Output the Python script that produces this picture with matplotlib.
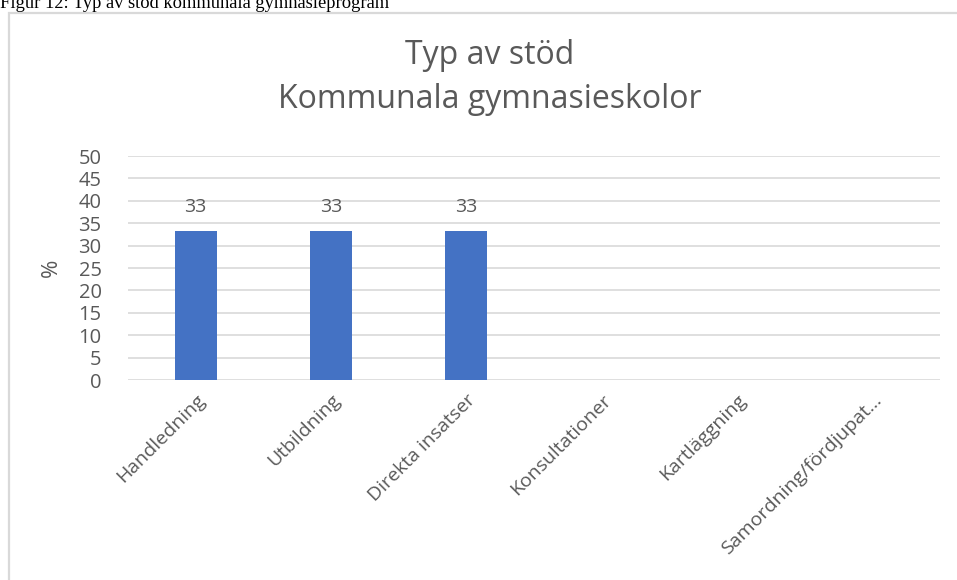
import matplotlib.pyplot as plt
from matplotlib.patches import Rectangle

categories = ["Handledning", "Utbildning", "Direkta insatser",
              "Konsultationer", "Kartläggning", "Samordning/fördjupat..."]
values = [33.3, 33.3, 33.3, 0, 0, 0]
yticks = list(range(0, 55, 5))

W, H = 957, 580
fig = plt.figure(figsize=(W / 100, H / 100), dpi=100)
plt.rcParams["font.family"] = ["Open Sans", "DejaVu Sans"]

# caption above the chart, its upper half is cropped away in the reference
fig.text(0.0, 1 - 8 / H, "Figur 12: Typ av stöd kommunala gymnasieprogram",
         family="Liberation Serif", fontsize=13.3, va="baseline", ha="left",
         color="black")

# chart border (runs off the right and bottom edge)
fig.patches.append(Rectangle((8.5 / W, -0.1), 1.2, 1 - 12.5 / H + 0.1,
                             transform=fig.transFigure, fill=False,
                             edgecolor="#D9D9D9", lw=1.6))

ax = fig.add_axes([128 / W, 200 / H, 812 / W, 224 / H])
x = range(len(categories))
bars = ax.bar(x, values, width=0.31, color="#4472C4")
for b, v in zip(bars, values):
    if v > 0:
        ax.text(b.get_x() + b.get_width() / 2, v + 3.2, f"{v:.0f}",
                ha="center", va="bottom", fontsize=14, color="#595959")

ax.set_xlim(-0.5, len(categories) - 0.5)
ax.set_ylim(0, 50)
ax.set_yticks(yticks)
ax.yaxis.grid(True, color="#D9D9D9", lw=1.2)
ax.set_axisbelow(True)
for s in ax.spines.values():
    s.set_visible(False)
ax.tick_params(axis="both", length=0, colors="#595959", labelsize=14.5)
ax.tick_params(axis="y", pad=19)
ax.set_xticks(list(x))
ax.set_xticklabels(categories, rotation=45, ha="right", rotation_mode="anchor",
                   fontsize=14)
ax.tick_params(axis="x", pad=8)
ax.set_ylabel("%", fontsize=16, color="#595959", labelpad=12)

fig.text(490 / W, 1 - 55 / H, "Typ av stöd", ha="center", va="center",
         fontsize=23, color="#595959")
fig.text(490 / W, 1 - 100 / H, "Kommunala gymnasieskolor", ha="center",
         va="center", fontsize=23, color="#595959")

fig.savefig("out.png", dpi=100)
